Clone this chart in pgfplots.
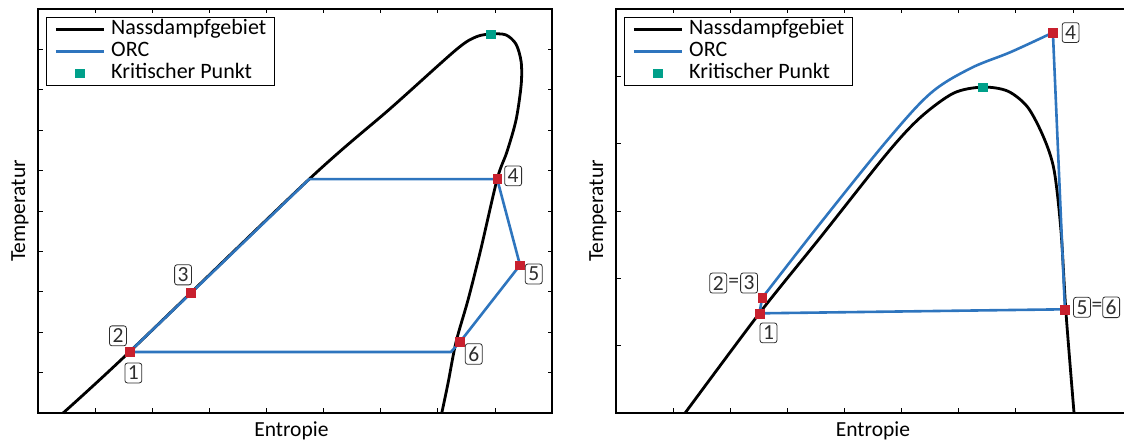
\documentclass[border=0pt]{standalone}
\usepackage{fontspec}
\setmainfont{Carlito}
\usepackage{pgfplots}
\pgfplotsset{compat=1.18}
\definecolor{orcblue}{RGB}{46,117,190}
\definecolor{mred}{RGB}{200,32,46}
\definecolor{mgreen}{RGB}{0,160,138}
\definecolor{lbl}{RGB}{45,45,45}
\tikzset{
  numbox/.style={draw=lbl, text=lbl, rounded corners=2.5pt, line width=0.8pt, inner sep=3pt, font=\fontsize{21.5}{24}\selectfont},
  eqs/.style={text=lbl, inner sep=0pt, font=\fontsize{21.5}{24}\selectfont}
}
\pgfplotsset{
  panel/.style={
    scale only axis, width=514pt, height=404pt, anchor=south west,
    xmin=0, xmax=9, xtick={1,...,8}, xticklabels={}, yticklabels={},
    tick align=inside, tick pos=both, major tick length=4.5pt,
    tick style={black, line width=0.6pt},
    axis line style={line width=1.4pt},
    clip=false,
    font=\fontsize{21.5}{25}\selectfont,
    xlabel={Entropie}, ylabel={Temperatur},
    ylabel style={at={(axis description cs:-0.025,0.5)}, anchor=base},
    legend cell align=left,
    legend style={at={(axis description cs:0.0156,0.98)}, anchor=north west,
      draw=black, line width=0.8pt, inner xsep=8pt, inner ysep=2pt,
      font=\fontsize{22}{24}\selectfont, row sep=2pt, column sep=6pt,
      nodes={inner sep=0pt, text height=15pt, text depth=5pt}},
    legend image code/.code={\draw[mark repeat=2,mark phase=2,##1] plot coordinates {(0pt,0pt) (24pt,0pt) (48pt,0pt)};},
  },
  sat/.style={black, line width=2.8pt, smooth, tension=0.5, no markers},
  orc/.style={orcblue, line width=2.6pt, no markers, line join=round},
  crit/.style={only marks, mark=square*, mark size=4.2pt, mark options={draw=none, fill=mgreen}, color=mgreen},
  pts/.style={only marks, mark=square*, mark size=4.4pt, mark options={draw=none, fill=mred}, color=mred},
}
\begin{document}
\begin{tikzpicture}
\path[use as bounding box, clip] (0pt,0pt) rectangle (1124pt,446pt);

% ---------------- left panel ----------------
\begin{axis}[panel, at={(38pt,33pt)}, ymin=0, ymax=10, ytick={1,...,9},
  xlabel style={at={(axis description cs:0.493,-0.057)}, anchor=base}]
\addplot[sat] coordinates {
 (0.44,0) (1.60,1.51) (4.75,5.79) (6.18,7.55) (7.32,8.99) (7.67,9.31)
 (7.93,9.38) (8.19,9.36) (8.37,9.13) (8.46,8.69) (8.46,8.12) (8.37,7.25)
 (8.21,6.46) (8.04,5.79) (7.75,4.03) (7.53,2.80) (7.32,1.76) (7.18,0.74) (7.07,0)};
\addlegendentry{Nassdampfgebiet}
\addplot[orc] coordinates {
 (1.60,1.51) (2.68,2.97) (4.75,5.79) (8.04,5.79) (8.44,3.66) (7.39,1.76) (7.23,1.51) (1.60,1.51)};
\addlegendentry{ORC}
\addplot[crit] coordinates {(7.93,9.38)};
\addlegendentry{Kritischer Punkt}
\addplot[pts, forget plot] coordinates {(1.60,1.51) (2.68,2.97) (8.04,5.79) (8.44,3.66) (7.39,1.76)};
\node[numbox] at (axis cs:1.40,1.91) {2};
\node[numbox] at (axis cs:1.67,0.99) {1};
\node[numbox] at (axis cs:2.54,3.42) {3};
\node[numbox] at (axis cs:8.32,5.87) {4};
\node[numbox] at (axis cs:8.68,3.44) {5};
\node[numbox] at (axis cs:7.63,1.46) {6};
\end{axis}

% ---------------- right panel ----------------
\begin{axis}[panel, at={(616pt,33pt)}, ymin=0, ymax=6, ytick={1,...,5},
  xlabel style={at={(axis description cs:0.5,-0.057)}, anchor=base}]
\addplot[sat] coordinates {
 (1.21,0) (2.51,1.48) (3.58,2.61) (4.75,3.86) (5.33,4.39) (5.91,4.75)
 (6.42,4.84) (6.86,4.78) (7.21,4.54) (7.49,4.09) (7.67,3.61) (7.79,2.72)
 (7.88,1.48) (8.02,0)};
\addlegendentry{Nassdampfgebiet}
\addplot[orc] coordinates {(7.65,5.65) (7.86,1.54) (2.51,1.48) (2.56,1.71)};
\addlegendentry{ORC}
\addplot[crit] coordinates {(6.42,4.84)};
\addlegendentry{Kritischer Punkt}
\addplot[orc, smooth, tension=0.55, forget plot] coordinates {
 (2.56,1.71) (3.58,2.82) (4.75,4.05) (5.51,4.75) (6.21,5.12) (6.91,5.36) (7.65,5.65)};
\addplot[pts, forget plot] coordinates {(2.51,1.48) (2.56,1.71) (7.65,5.65) (7.86,1.54)};
\node[numbox] at (axis cs:1.79,1.93) {2};
\node[eqs] at (axis cs:2.06,1.93) {=};
\node[numbox] at (axis cs:2.33,1.93) {3};
\node[numbox] at (axis cs:2.67,1.19) {1};
\node[numbox] at (axis cs:7.96,5.65) {4};
\node[numbox] at (axis cs:8.16,1.57) {5};
\node[eqs] at (axis cs:8.42,1.57) {=};
\node[numbox] at (axis cs:8.67,1.57) {6};
\end{axis}
\end{tikzpicture}
\end{document}
